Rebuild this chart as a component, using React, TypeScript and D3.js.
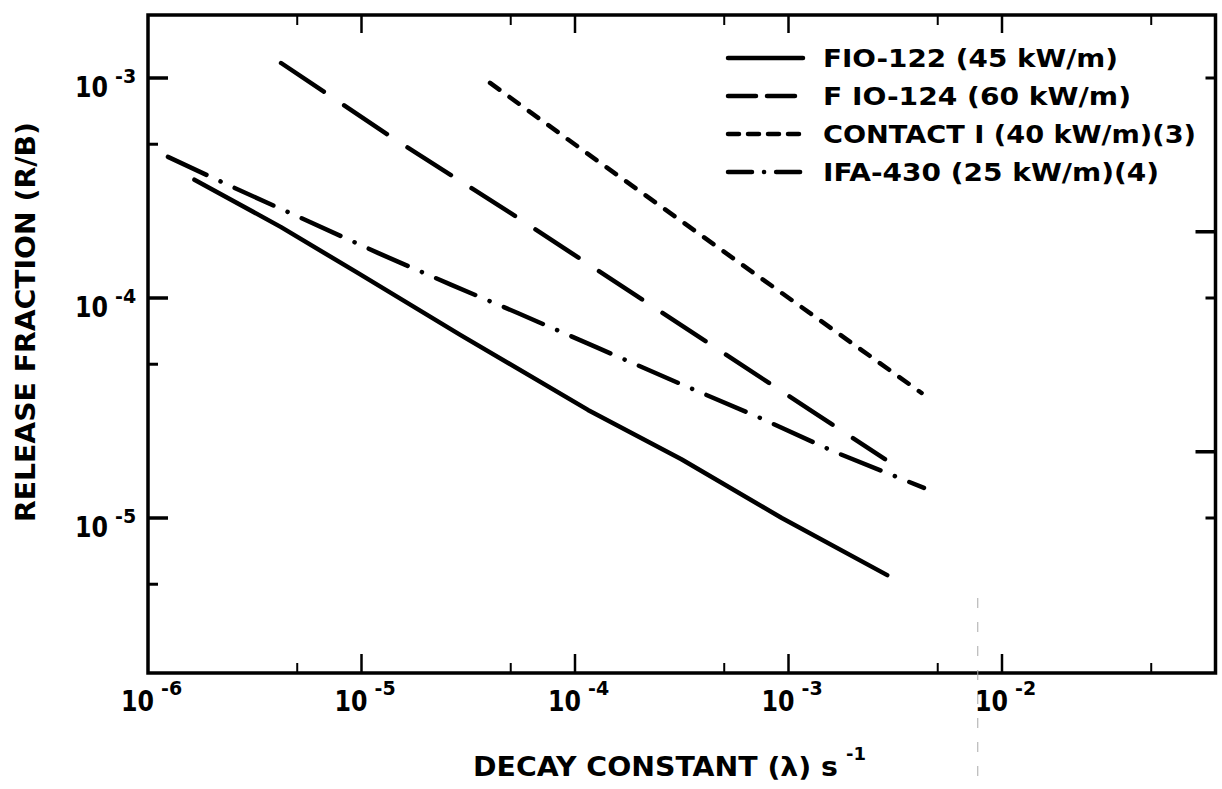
import React from "react";
import * as d3 from "d3";

const W = 1222;
const H = 789;

// Series (decay constant s^-1, release fraction R/B)
const f122X = [1.65e-6, 4.2e-6, 9.6e-6, 2.9e-5, 1.15e-4, 3.15e-4, 9.3e-4, 2.9e-3];
const f122Y = [3.45e-4, 2.1e-4, 1.3e-4, 6.8e-5, 3.1e-5, 1.85e-5, 1.0e-5, 5.5e-6];
const f124X = [4.2e-6, 1.4e-5, 5.0e-5, 2.46e-4, 1.26e-3, 2.83e-3];
const f124Y = [1.17e-3, 5.34e-4, 2.43e-4, 8.8e-5, 3.1e-5, 1.85e-5];
const contactX = [4.0e-5, 1.32e-4, 5.0e-4, 2.2e-3, 4.2e-3];
const contactY = [9.5e-4, 4.1e-4, 1.62e-4, 5.8e-5, 3.7e-5];
const ifaX = [1.24e-6, 2.43e-6, 5.06e-6, 1.2e-5, 2.62e-5, 5.39e-5, 1.28e-4, 3.21e-4, 6.86e-4, 1.64e-3, 4.31e-3];
const ifaY = [4.38e-4, 3.23e-4, 2.34e-4, 1.6e-4, 1.15e-4, 8.55e-5, 5.93e-5, 4.02e-5, 2.94e-5, 2.0e-5, 1.37e-5];

const legendLabels = [
  "FIO-122 (45 kW/m)",
  "F IO-124 (60 kW/m)",
  "CONTACT I (40 kW/m)(3)",
  "IFA-430 (25 kW/m)(4)",
];
const legendLengths = [295, 308, 373, 336];

// Axis ticks
const xMajor = [1e-6, 1e-5, 1e-4, 1e-3, 1e-2];
const xMajorExp = ["-6", "-5", "-4", "-3", "-2"];
const xMinor = [5e-6, 5e-5, 5e-4, 5e-3, 5e-2];
const yMajor = [1e-3, 1e-4, 1e-5];
const yMajorExp = ["-3", "-4", "-5"];
const yMinor = [5e-4, 5e-5, 5e-6];
const rightLong = [2e-4, 2e-5];
const rightShort = [1e-3, 1e-4, 1e-5];
const artifactX = 7.7e-3;

const FONT = "'DejaVu Sans', Verdana, sans-serif";

export default function App() {
  const x = d3.scaleLog().domain([1e-6, 1e-2]).range([148, 1002]);
  const y = d3.scaleLog().domain([1e-5, 1e-3]).range([518, 78]);
  const left = x(1e-6);
  const right = x(1e-1);
  const top = 15;
  const bottom = 673;

  const line = d3
    .line<[number, number]>()
    .x((d) => x(d[0]))
    .y((d) => y(d[1]));
  const zip = (a: number[], b: number[]) => a.map((v, i) => [v, b[i]] as [number, number]);

  const series = [
    { d: zip(f122X, f122Y), dash: undefined },
    { d: zip(f124X, f124Y), dash: "51.5 24.5" },
    { d: zip(contactX, contactY), dash: "11.5 12.5" },
    { d: zip(ifaX, ifaY), dash: "42.5 15.5 0.1 15.5" },
  ];
  const legendDash = [undefined, "28 11", "11 9", "24 12 0.1 12"];
  const legendY = [58, 96, 134, 172];

  return (
    <svg
      width={W}
      height={H}
      style={{ position: "absolute", left: 0, top: 0, background: "#fff" }}
      fontFamily={FONT}
      fontWeight="bold"
    >
      <rect x={0} y={0} width={W} height={H} fill="#fff" />
      {/* frame */}
      <rect x={left} y={top} width={right - left} height={bottom - top} fill="none" stroke="#000" strokeWidth={3.5} />
      {/* bottom & top ticks */}
      {xMajor.slice(1).map((v, i) => (
        <g key={"xM" + i}>
          <line x1={x(v)} x2={x(v)} y1={bottom} y2={bottom - 19} stroke="#000" strokeWidth={2.5} />
          <line x1={x(v)} x2={x(v)} y1={top} y2={top + 18} stroke="#000" strokeWidth={2.5} />
        </g>
      ))}
      {xMinor.map((v, i) => (
        <g key={"xm" + i}>
          <line x1={x(v)} x2={x(v)} y1={bottom} y2={bottom - 10} stroke="#000" strokeWidth={2} />
          <line x1={x(v)} x2={x(v)} y1={top} y2={top + 10} stroke="#000" strokeWidth={2} />
        </g>
      ))}
      {/* left ticks */}
      {yMajor.map((v, i) => (
        <line key={"yM" + i} x1={left} x2={left + 20} y1={y(v)} y2={y(v)} stroke="#000" strokeWidth={3.5} />
      ))}
      {yMinor.map((v, i) => (
        <line key={"ym" + i} x1={left} x2={left + 10} y1={y(v)} y2={y(v)} stroke="#000" strokeWidth={3} />
      ))}
      {/* right ticks */}
      {rightLong.map((v, i) => (
        <line key={"rL" + i} x1={right} x2={right - 20} y1={y(v)} y2={y(v)} stroke="#000" strokeWidth={3.5} />
      ))}
      {rightShort.map((v, i) => (
        <line key={"rS" + i} x1={right} x2={right - 10} y1={y(v)} y2={y(v)} stroke="#000" strokeWidth={3} />
      ))}
      {/* x tick labels */}
      {xMajor.map((v, i) => (
        <g key={"xl" + i}>
          <text x={x(v) + 6} y={711} fontSize={29} textAnchor="end" textLength={33} lengthAdjust="spacingAndGlyphs">
            10
          </text>
          <text x={x(v) + 13} y={695} fontSize={19}>
            {xMajorExp[i]}
          </text>
        </g>
      ))}
      {/* y tick labels */}
      {yMajor.map((v, i) => (
        <g key={"yl" + i}>
          <text x={108} y={y(v) + 19} fontSize={29} textAnchor="end" textLength={33} lengthAdjust="spacingAndGlyphs">
            10
          </text>
          <text x={115} y={y(v) + 5} fontSize={19}>
            {yMajorExp[i]}
          </text>
        </g>
      ))}
      {/* axis titles */}
      <text x={473} y={776} fontSize={26} textLength={365} lengthAdjust="spacingAndGlyphs">
        DECAY CONSTANT (λ) s
      </text>
      <text x={846} y={760} fontSize={18}>
        -1
      </text>
      <text
        transform={`translate(35, 322) rotate(-90)`}
        fontSize={27}
        textAnchor="middle"
        textLength={400}
        lengthAdjust="spacingAndGlyphs"
      >
        RELEASE FRACTION (R/B)
      </text>
      {/* scan artifact */}
      <line x1={x(artifactX)} x2={x(artifactX)} y1={598} y2={789} stroke="#aaa" strokeWidth={1} strokeDasharray="10 14" />
      {/* data lines */}
      {series.map((s, i) => (
        <path
          key={"s" + i}
          d={line(s.d) || ""}
          fill="none"
          stroke="#000"
          strokeWidth={4.5}
          strokeLinecap="round"
          strokeLinejoin="round"
          strokeDasharray={s.dash}
        />
      ))}
      {/* legend */}
      {legendLabels.map((lab, i) => (
        <g key={"lg" + i}>
          <line
            x1={728}
            x2={803}
            y1={legendY[i]}
            y2={legendY[i]}
            stroke="#000"
            strokeWidth={4.5}
            strokeLinecap="round"
            strokeDasharray={legendDash[i]}
          />
          <text x={823} y={legendY[i] + 9} fontSize={24} textLength={legendLengths[i]} lengthAdjust="spacingAndGlyphs">
            {lab}
          </text>
        </g>
      ))}
    </svg>
  );
}
